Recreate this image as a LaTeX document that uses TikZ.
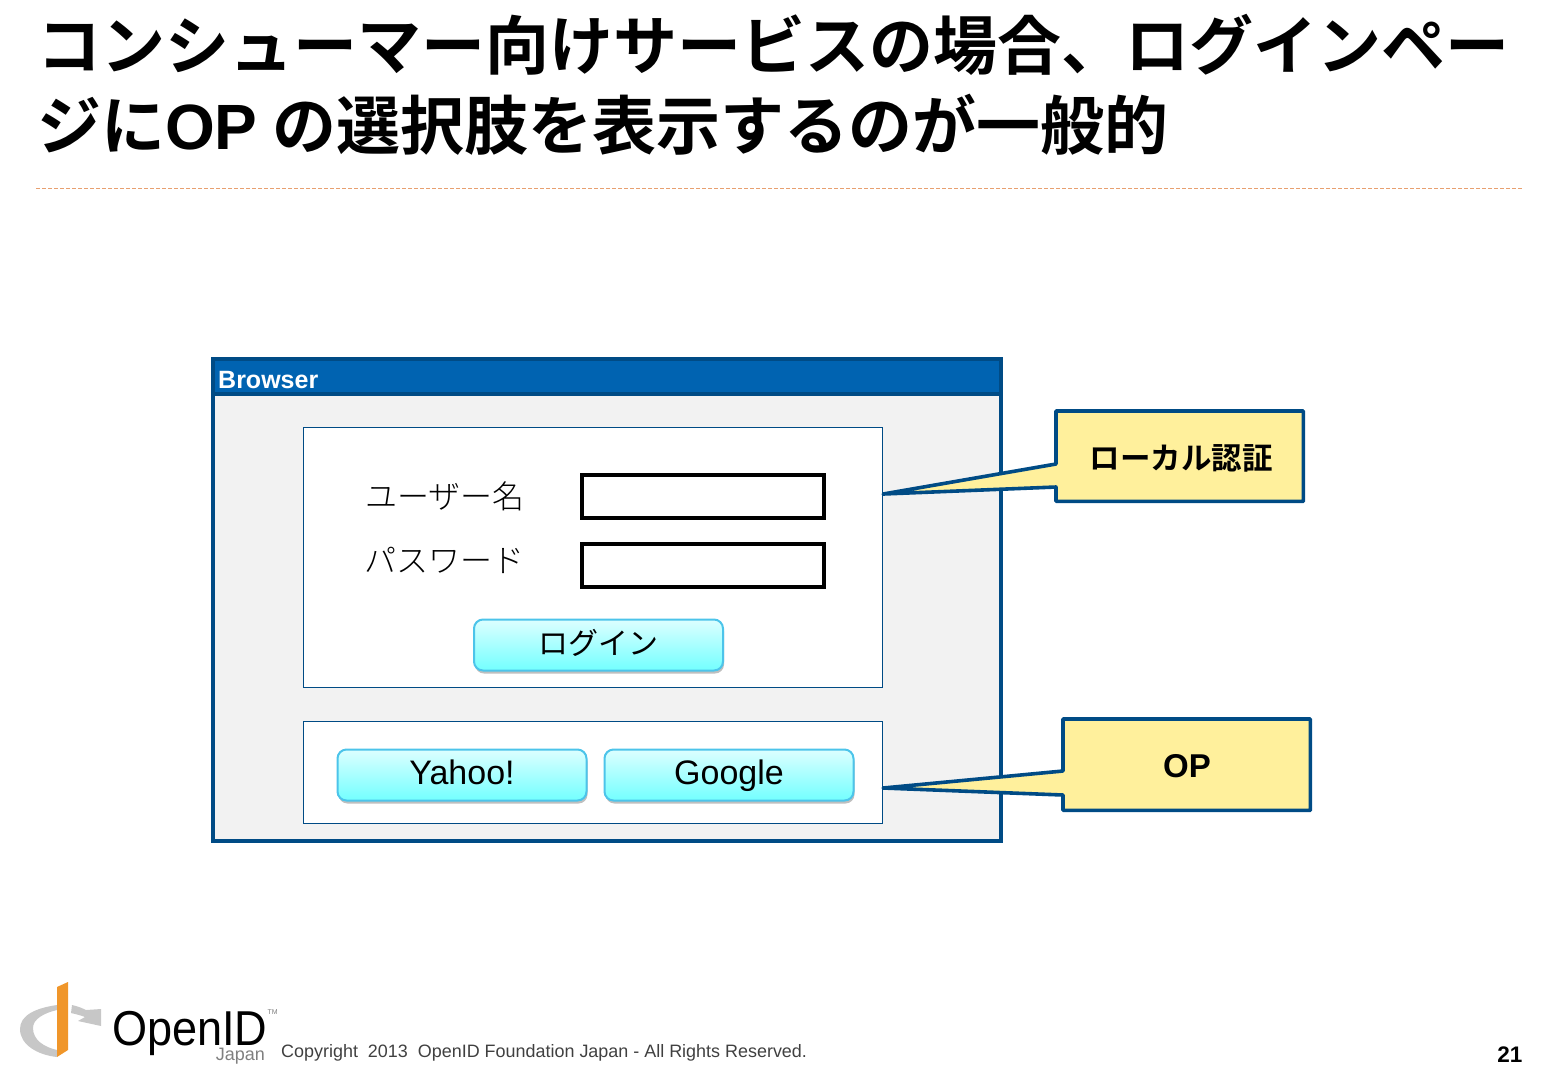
\documentclass[tikz,border=0pt]{standalone}
\usepackage{fontspec}
\usepackage{xcolor}
\usepackage{tikz}
\usetikzlibrary{positioning,shadows}
\setmainfont{Liberation Sans}
\newfontfamily\cjk{Noto Sans CJK JP Light}
\newfontfamily\cjkm{Noto Sans CJK JP}
\newfontfamily\cjkb{Noto Sans CJK JP Bold}
\definecolor{navy}{HTML}{004B85}
\definecolor{barblue}{HTML}{0063B1}
\definecolor{panelgray}{HTML}{F2F2F2}
\definecolor{noteyellow}{HTML}{FFF09C}
\definecolor{btnedge}{HTML}{4CC4EA}
\definecolor{logoorange}{HTML}{F0962A}
\definecolor{rulecolor}{HTML}{E8A070}
\tikzset{
  panel/.style={draw=navy, line width=1.2pt, fill=white, anchor=north west},
  field/.style={draw=black, line width=3.6pt, fill=white, minimum width=242.4pt, minimum height=43.4pt, anchor=north west, inner sep=0pt},
  btn/.style={draw=btnedge, line width=2pt, rounded corners=9pt, top color=white!70!cyan!45, bottom color=cyan!55,
    drop shadow={shadow xshift=1pt, shadow yshift=-3pt, opacity=0.5}, minimum width=249pt, minimum height=51pt, inner sep=0pt,
    text height=26pt, text depth=8pt, font=\fontsize{34}{34}\selectfont},
  note/.style={draw=none, minimum width=247pt, minimum height=90pt, inner sep=0pt, anchor=north west},
  callout/.style={draw=navy, line width=3.6pt, fill=noteyellow, line join=round},
  lbl/.style={font=\cjk\fontsize{32}{32}\selectfont, inner sep=0pt}
}
\begin{document}
\begin{tikzpicture}[x=1pt, y=-1pt]
\useasboundingbox (0,0) rectangle (1560,1080);
% title
\node[anchor=north west, inner sep=0pt, align=left, font=\cjkb\fontsize{64}{80}\selectfont] (title) at (37,14)
  {コンシューマー向けサービスの場合、ログインペー\\ジに{\normalfont\bfseries OP} の選択肢を表示するのが一般的};
\coordinate (ruleL) at (36,188);
\coordinate (ruleR) at (1523,188);
\draw[draw=rulecolor, line width=1pt, dash pattern=on 4pt off 2pt] (ruleL) -- (ruleR);
% browser window
\node[draw=navy, line width=3.6pt, fill=panelgray, minimum width=788.4pt, minimum height=482.4pt, anchor=north west, inner sep=0pt] (browser) at (211,357) {};
\node[draw=navy, line width=3.6pt, fill=barblue, minimum width=788.4pt, minimum height=35.4pt, anchor=north west, inner sep=0pt] (bar) at (211,357) {};
\node[anchor=west, text=white, inner sep=0pt, font=\fontsize{25}{25}\bfseries\selectfont] (barlabel) at (218,380) {Browser};
% panels
\node[panel, minimum width=579pt, minimum height=260pt] (login) at (303,427) {};
\node[panel, minimum width=579pt, minimum height=102pt] (oplist) at (303,721) {};
\node[field] (userbox) at (580,473) {};
\node[field, below=22pt of userbox] (passbox) {};
\node[lbl, anchor=center] (userlabel) at (445,496) {ユーザー名};
\node[lbl, anchor=center] (passlabel) at (444,560) {パスワード};
\node[btn, font=\cjkm\fontsize{30}{30}\selectfont] (loginbtn) at (598.5,645) {ログイン};
\node[btn] (yahoo) at (462,775) {Yahoo!};
\node[btn, right=16pt of yahoo] (google) {Google};
% callouts
\node[note] (localnote) at (1056,411) {};
\coordinate (localtip) at (login.east |- 0,494);
\draw[callout] (localnote.north west) -- (localnote.north east) -- (localnote.south east) -- (localnote.south west)
  -- (1056,487) -- (localtip) -- (1056,464) -- cycle;
\node[font=\cjkb\fontsize{30.5}{30.5}\selectfont, inner sep=0pt] (localtext) at (1181,458) {ローカル認証};
\node[note, minimum height=91pt] (opnote) at (1063,719) {};
\coordinate (optip) at (oplist.east |- 0,788);
\draw[callout] (opnote.north west) -- (opnote.north east) -- (opnote.south east) -- (opnote.south west)
  -- (1063,795) -- (optip) -- (1063,771) -- cycle;
\node[inner sep=0pt, font=\fontsize{33}{33}\bfseries\selectfont] (optext) at (1187,766) {OP};
% logo
\fill[black!22] (57,1005) .. controls (36,1008) and (20,1015) .. (20,1029) .. controls (20,1045) and (38,1055) .. (57,1057) -- (57,1050) .. controls (44,1047) and (33,1040) .. (33,1028) .. controls (33,1019) and (44,1013) .. (57,1010) -- cycle;
\fill[black!22] (72,1005) .. controls (77,1006) and (82,1008) .. (86,1010) -- (101,1009) -- (101,1026) -- (78,1021) -- (85,1017) .. controls (80,1015) and (75,1014) .. (71,1013) -- cycle;
\fill[logoorange] (57,987) -- (68,982) -- (68,1050) -- (57,1057) -- cycle;
\node[anchor=base west, inner sep=0pt, xscale=0.92, font=\fontsize{49}{49}\selectfont] (openid) at (112,1045) {OpenID};
\node[anchor=base west, inner sep=0pt, text=black!50, font=\fontsize{7}{7}\selectfont] (tmark) at (267.5,1014) {TM};
\node[anchor=base east, inner sep=0pt, text=black!50, font=\fontsize{18}{18}\selectfont] (japan) at (265,1060) {Japan};
\node[anchor=base west, inner sep=0pt, text=black!75, font=\fontsize{17.95}{18}\selectfont] (copy) at (281,1057) {Copyright\ \ 2013\ \ OpenID Foundation Japan - All Rights Reserved.};
\node[anchor=base east, inner sep=0pt, font=\fontsize{22.5}{23}\bfseries\selectfont] (pageno) at (1522.5,1062) {21};
\end{tikzpicture}
\end{document}
